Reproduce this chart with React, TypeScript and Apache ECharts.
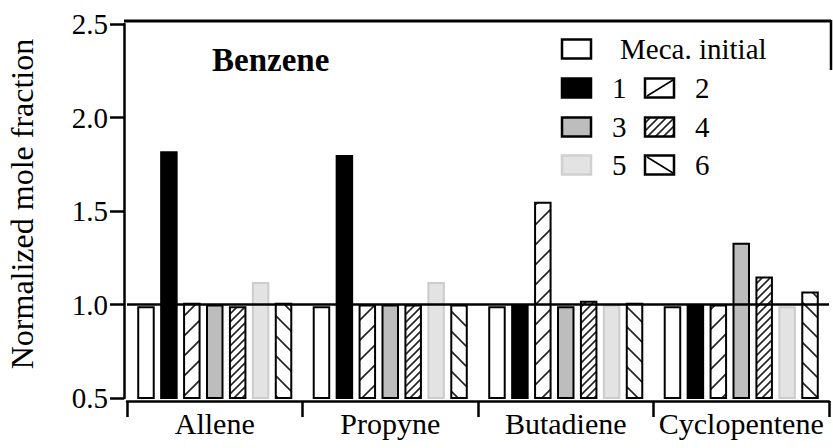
import React, { useEffect, useRef } from 'react';
import * as echarts from 'echarts';

const categories = ['Allene', 'Propyne', 'Butadiene', 'Cyclopentene'];
const seriesNames = ['Meca. initial', '1', '2', '3', '4', '5', '6'];
const mecaInitial = [0.99, 0.99, 0.99, 0.99];
const case1 = [1.82, 1.8, 1.0, 1.0];
const case2 = [1.01, 1.0, 1.55, 1.0];
const case3 = [1.0, 1.0, 0.99, 1.33];
const case4 = [0.99, 1.0, 1.02, 1.15];
const case5 = [1.12, 1.12, 1.0, 0.99];
const case6 = [1.01, 1.0, 1.01, 1.07];
const yMin = 0.5;
const yMax = 2.5;
const yStep = 0.5;
const referenceLevel = 1.0;

const FONT = '"Liberation Serif", "Times New Roman", serif';

function hatch(size: number, dir: 'fwd' | 'back', lw: number) {
  const c = document.createElement('canvas');
  c.width = size;
  c.height = size;
  const ctx = c.getContext('2d')!;
  ctx.fillStyle = '#ffffff';
  ctx.fillRect(0, 0, size, size);
  ctx.strokeStyle = '#222222';
  ctx.lineWidth = lw;
  ctx.beginPath();
  if (dir === 'fwd') {
    ctx.moveTo(0, size);
    ctx.lineTo(size, 0);
    ctx.moveTo(-size / 2, size / 2);
    ctx.lineTo(size / 2, -size / 2);
    ctx.moveTo(size / 2, size * 1.5);
    ctx.lineTo(size * 1.5, size / 2);
  } else {
    ctx.moveTo(0, 0);
    ctx.lineTo(size, size);
    ctx.moveTo(-size / 2, size / 2);
    ctx.lineTo(size / 2, size * 1.5);
    ctx.moveTo(size / 2, -size / 2);
    ctx.lineTo(size * 1.5, size / 2);
  }
  ctx.stroke();
  return { image: c, repeat: 'repeat', imageWidth: size, imageHeight: size } as any;
}

export default function App() {
  const ref = useRef<HTMLDivElement>(null);
  useEffect(() => {
    document.body.style.margin = '0';
    if (!ref.current) return;
    const chart = echarts.init(ref.current, undefined, { renderer: 'svg' });
    const sparseFwd = hatch(20, 'fwd', 1.6);
    const denseFwd = hatch(8, 'fwd', 1.6);
    const sparseBack = hatch(20, 'back', 1.6);
    const values = [mecaInitial, case1, case2, case3, case4, case5, case6];
    const styles: any[] = [
      { color: '#ffffff', borderColor: '#000', borderWidth: 2 },
      { color: '#000000', borderColor: '#000', borderWidth: 2 },
      { color: sparseFwd, borderColor: '#000', borderWidth: 2 },
      { color: '#bdbdbd', borderColor: '#000', borderWidth: 2 },
      { color: denseFwd, borderColor: '#000', borderWidth: 2 },
      { color: '#e3e3e3', borderColor: '#cccccc', borderWidth: 2 },
      { color: sparseBack, borderColor: '#000', borderWidth: 2 },
    ];
    const series: any[] = seriesNames.map((name, i) => ({
      name,
      type: 'bar',
      data: values[i],
      barWidth: 17.5,
      barGap: '31%',
      itemStyle: styles[i],
      emphasis: { disabled: true },
      clip: true,
      ...(i === seriesNames.length - 1
        ? {
            markLine: {
              silent: true,
              symbol: 'none',
              label: { show: false },
              lineStyle: { color: '#000', width: 2.5, type: 'solid' },
              data: [{ yAxis: referenceLevel }],
            },
          }
        : {}),
    }));

    const rowY = [49, 88, 127, 165];
    const legendText = (x: number, y: number, t: string) => ({
      type: 'text',
      x,
      y,
      style: { text: t, fontFamily: FONT, fontSize: 29, fill: '#000', textVerticalAlign: 'middle', textAlign: 'left' },
    });
    const box = (x: number, y: number, fill: any, stroke = '#000') => ({
      type: 'rect',
      shape: { x, y: y - 9.5, width: 29, height: 19 },
      style: { fill, stroke, lineWidth: 2.5 },
    });
    const graphic: any[] = [
      { type: 'line', shape: { x1: 124, y1: 21, x2: 831, y2: 21 }, style: { stroke: '#000', lineWidth: 3 } },
      { type: 'line', shape: { x1: 831, y1: 20, x2: 831, y2: 70 }, style: { stroke: '#000', lineWidth: 2.5 } },
      {
        type: 'text',
        x: 212,
        y: 60,
        style: { text: 'Benzene', fontFamily: FONT, fontWeight: 'bold', fontSize: 33, fill: '#000', textVerticalAlign: 'middle' },
      },
      {
        type: 'text',
        x: 22,
        y: 204,
        rotation: Math.PI / 2,
        style: {
          text: 'Normalized mole fraction',
          fontFamily: FONT,
          fontSize: 32,
          fill: '#000',
          textAlign: 'center',
          textVerticalAlign: 'middle',
        },
      },
      box(562, rowY[0], '#fff'),
      legendText(620, rowY[0], 'Meca. initial'),
      box(562, rowY[1], '#000'),
      legendText(612, rowY[1], '1'),
      box(645, rowY[1], '#fff'),
      { type: 'line', shape: { x1: 647, y1: rowY[1] + 8, x2: 673, y2: rowY[1] - 8 }, style: { stroke: '#000', lineWidth: 1.5 } },
      legendText(695, rowY[1], '2'),
      box(562, rowY[2], '#bdbdbd'),
      legendText(612, rowY[2], '3'),
      box(645, rowY[2], denseFwd),
      legendText(695, rowY[2], '4'),
      box(562, rowY[3], '#e3e3e3', '#d0d0d0'),
      legendText(612, rowY[3], '5'),
      box(645, rowY[3], '#fff'),
      { type: 'line', shape: { x1: 647, y1: rowY[3] - 8, x2: 673, y2: rowY[3] + 8 }, style: { stroke: '#000', lineWidth: 1.5 } },
      legendText(695, rowY[3], '6'),
    ];

    chart.setOption({
      animation: false,
      backgroundColor: '#ffffff',
      grid: { left: 127, right: 4, top: 24, bottom: 50, containLabel: false },
      xAxis: {
        type: 'category',
        data: categories,
        offset: 3,
        axisLine: { lineStyle: { color: '#000', width: 2.5 } },
        axisTick: { show: true, length: 16, lineStyle: { color: '#000', width: 2.5 } },
        axisLabel: { color: '#000', fontFamily: FONT, fontSize: 30, margin: 7, interval: 0, hideOverlap: false },
        splitLine: { show: false },
      },
      yAxis: {
        type: 'value',
        min: yMin,
        max: yMax,
        interval: yStep,
        offset: 3,
        axisLine: { show: true, lineStyle: { color: '#000', width: 2.5 } },
        axisTick: { show: true, length: 14, lineStyle: { color: '#000', width: 2.5 } },
        axisLabel: {
          color: '#000',
          fontFamily: FONT,
          fontSize: 29,
          margin: 16,
          formatter: (v: number) => v.toFixed(1),
        },
        splitLine: { show: false },
      },
      series,
      graphic,
    });
    return () => chart.dispose();
  }, []);
  return <div ref={ref} style={{ width: 833, height: 448 }} />;
}
